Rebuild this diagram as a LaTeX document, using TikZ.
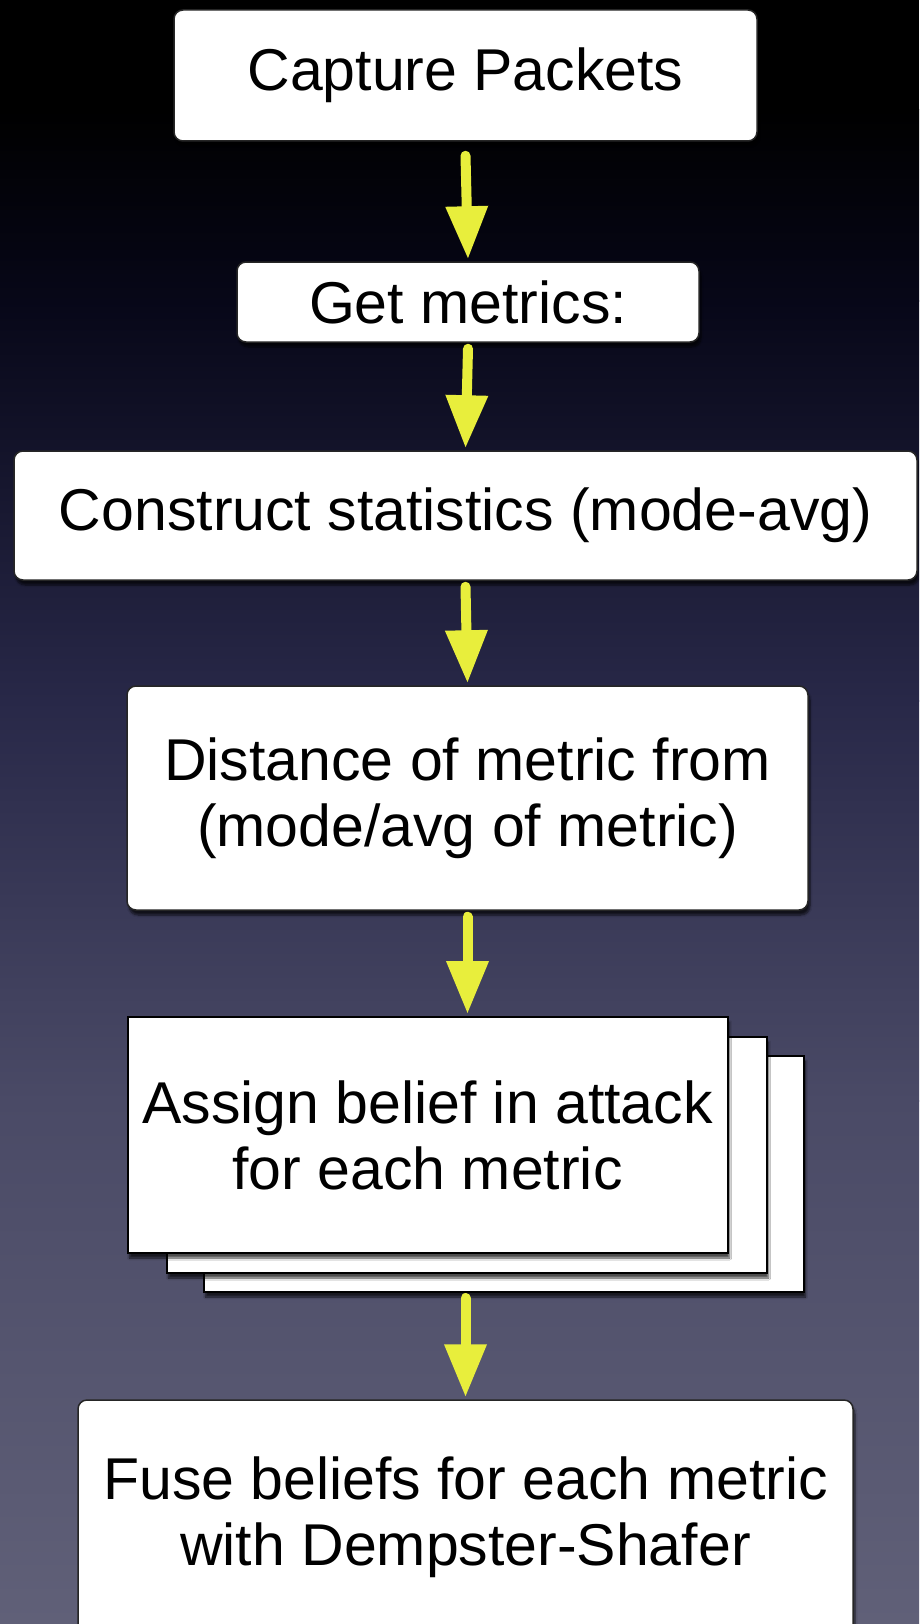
\documentclass[tikz,border=0pt]{standalone}
\usepackage{fontspec}
\setmainfont{Liberation Sans}
\usetikzlibrary{arrows.meta,shadows.blur,calc}
\definecolor{bgA}{RGB}{0,0,0}
\definecolor{bgB}{RGB}{7,7,24}
\definecolor{bgC}{RGB}{40,40,72}
\definecolor{bgD}{RGB}{74,74,102}
\definecolor{bgE}{RGB}{96,96,120}
\definecolor{arrowyellow}{RGB}{232,238,60}
\begin{document}
\begin{tikzpicture}[x=1pt,y=-1pt,
  box/.style={draw=black!85, line width=1.5pt, fill=white, rounded corners=9pt,
    inner sep=0pt, font=\fontsize{59}{66}\selectfont, align=center,
    blur shadow={shadow xshift=2pt, shadow yshift=-5pt, shadow blur steps=6, shadow opacity=70}},
  card/.style={box, rounded corners=0pt, line width=2pt, draw=black},
  flow/.style={draw=arrowyellow, line width=10pt, line cap=round,
    -{Triangle[length=53pt,width=40pt,fill=arrowyellow]}}]
\useasboundingbox (0,0) rectangle (919,1624);
\clip (0,0) rectangle (919,1624);
% background gradient
\fill[bgA] (0,0) rectangle (919,111);
\shade[top color=bgA, bottom color=bgB] (0,110) rectangle (919,301);
\shade[top color=bgB, bottom color=bgC] (0,300) rectangle (919,701);
\shade[top color=bgC, bottom color=bgD] (0,700) rectangle (919,1101);
\shade[top color=bgD, bottom color=bgE] (0,1100) rectangle (919,1624);
% boxes
\node[box, minimum width=583pt, minimum height=131pt] (b1) at (465.5,75.5) {Capture Packets};
\node[box, minimum width=462pt, minimum height=80pt] (b2) at (468,302) {Get metrics:};
\node[box, minimum width=903pt, minimum height=129pt] (b3) at (465.5,515.5) {Construct statistics (mode-avg)};
\node[box, minimum width=681pt, minimum height=224pt] (b4) at (467.5,798) {Distance of metric from\\(mode/avg of metric)};
\node[card, minimum width=600pt, minimum height=236pt] (c3) at (503.5,1174) {};
\node[card, minimum width=600pt, minimum height=236pt] (c2) at (466.5,1155) {};
\node[card, minimum width=600pt, minimum height=236pt] (c1) at (427.5,1135) {Assign belief in attack\\for each metric};
\node[box, minimum width=775pt, minimum height=234pt] (b6) at (465.5,1517) {Fuse beliefs for each metric\\with Dempster-Shafer};
% connectors
\draw[flow] ($(b1.south)+(0,14)$) -- ($(b2.north)+(0,-2)$);
\draw[flow] ($(b2.south)+(0,6)$) -- ($(b3.north)+(0,-2)$);
\draw[flow] ($(b3.south)+(0,6)$) -- ($(b4.north)+(0,-2)$);
\draw[flow] ($(b4.south)+(0,6)$) -- ($(b4.south |- c1.north)+(0,-2)$);
\draw[flow] ($(b6.north |- c3.south)+(0,5)$) -- ($(b6.north)+(0,-2)$);
\end{tikzpicture}
\end{document}
